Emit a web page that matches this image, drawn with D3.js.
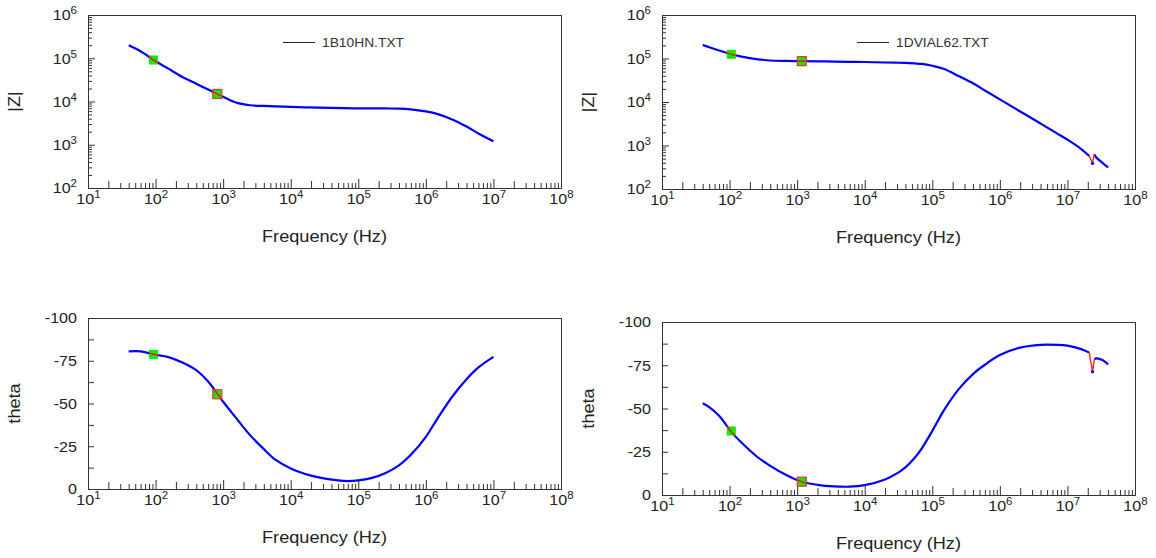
<!DOCTYPE html>
<html><head><meta charset="utf-8">
<script src="https://cdn.jsdelivr.net/npm/d3@7"></script>
<style>
body{margin:0;background:#fff;}
svg text{font-family:"Liberation Sans",Arial,sans-serif;fill:#222;}
</style></head><body>
<svg id="c" width="1156" height="558"></svg>
<script>
// ---------- data ----------
const fileNames = ["1B10HN.TXT", "1DVIAL62.TXT"];
const freqTicks = [1e1, 1e2, 1e3, 1e4, 1e5, 1e6, 1e7, 1e8];
const zTicks = [1e2, 1e3, 1e4, 1e5, 1e6];
const thetaTicks = [0, -25, -50, -75, -100];
const thetaMinorTicks = [-12.5, -37.5, -62.5, -87.5];

const freq1  = [40, 60, 100, 150, 250, 400, 600, 1000, 1500, 2500, 4000, 6000, 1e4, 1.6e4, 2.5e4, 6e4, 1e5, 1.6e5, 2.5e5, 4e5, 6e5, 1e6, 1.5e6, 2.5e6, 4e6, 6e6, 1e7];
const zmag1  = [2.0e5, 1.45e5, 8.5e4, 5.9e4, 3.67e4, 2.57e4, 1.9e4, 1.28e4, 9.6e3, 8.2e3, 7.9e3, 7.7e3, 7.5e3, 7.35e3, 7.2e3, 7.0e3, 6.95e3, 6.92e3, 6.9e3, 6.85e3, 6.6e3, 5.9e3, 5.1e3, 3.8e3, 2.63e3, 1.82e3, 1.2e3];
const theta1 = [-80.5, -80.5, -78.5, -77.3, -74, -69.5, -62.9, -51, -42.3, -31.5, -23.3, -17.0, -12.0, -8.9, -6.9, -4.7, -5.0, -6.5, -9.2, -13.8, -20.0, -30.5, -41.5, -54.4, -64.2, -71.1, -77.3];
const markFreq1  = [93, 820];
const markZ1     = [9.1e4, 1.49e4];
const markTheta1 = [-78.7, -55.4];

const freq2  = [40, 50, 70, 106, 150, 250, 400, 700, 1170, 2000, 3500, 6000, 1e4, 2e4, 3e4, 4e4, 5.5e4, 7e4, 1e5, 1.5e5, 2.5e5, 4e5, 6e5, 1e6, 2e6, 4e6, 7e6, 1e7, 1.6e7, 2.1e7, 2.35e7, 2.5e7, 2.7e7, 3.3e7, 4e7];
const zmag2  = [2.04e5, 1.82e5, 1.53e5, 1.25e5, 1.10e5, 9.7e4, 9.0e4, 8.8e4, 8.7e4, 8.6e4, 8.5e4, 8.4e4, 8.3e4, 8.1e4, 8.0e4, 7.9e4, 7.7e4, 7.5e4, 6.8e4, 5.75e4, 3.9e4, 2.7e4, 1.84e4, 1.15e4, 6.07e3, 3.2e3, 1.9e3, 1.36e3, 830, 575, 390, 630, 525, 400, 316];
const theta2 = [-53, -50.8, -45.8, -36.5, -30.3, -22.4, -16.8, -11.4, -7.7, -5.9, -5.0, -4.8, -5.7, -9.0, -12.5, -16.0, -21.5, -27.0, -37.0, -49.2, -61.5, -69.9, -75.3, -80.9, -85.2, -86.8, -86.8, -86.3, -84.3, -82.3, -71.3, -78.4, -79, -78, -75.5];
const markFreq2  = [106, 1170];
const markZ2     = [1.25e5, 8.7e4];
const markTheta2 = [-37, -7.7];

// ---------- layout ----------
const files = [
  {freq: freq1, z: zmag1, t: theta1, mf: markFreq1, mz: markZ1, mt: markTheta1, red: null},
  {freq: freq2, z: zmag2, t: theta2, mf: markFreq2, mz: markZ2, mt: markTheta2, red: [29, 31]}
];
const panels = [
  {x0: 88,  x1: 561,  y0: 15,  y1: 188, type: "z", file: 0},
  {x0: 662, x1: 1135, y0: 15,  y1: 189, type: "z", file: 1},
  {x0: 88,  x1: 561,  y0: 318, y1: 489, type: "t", file: 0},
  {x0: 662, x1: 1135, y0: 322, y1: 495, type: "t", file: 1}
];
const SX = 1.15; // horizontal text stretch
const AX = "#333";

const svg = d3.select("#c");
const minor2 = [], minorRest = [];
for (let e = 1; e < 8; e++) for (let m = 2; m <= 9; m++) (m === 2 ? minor2 : minorRest).push(m * Math.pow(10, e));
const yMinor = [];
for (let e = 2; e < 6; e++) for (let m = 2; m <= 9; m++) yMinor.push(m * Math.pow(10, e));

function supLabel(sel, exp) {
  sel.text(null);
  sel.append("tspan").text("10");
  sel.append("tspan").attr("dy", -6).attr("font-size", "10px").text(exp);
}

panels.forEach((p, pi) => {
  const f = files[p.file];
  const g = svg.append("g");
  const x = d3.scaleLog().domain([1e1, 1e8]).range([p.x0, p.x1]);
  const y = p.type === "z"
    ? d3.scaleLog().domain([1e2, 1e6]).range([p.y1, p.y0])
    : d3.scaleLinear().domain([0, -100]).range([p.y1, p.y0]);
  const vals = p.type === "z" ? f.z : f.t;
  const mvals = p.type === "z" ? f.mz : f.mt;

  // x axis (ticks inward)
  const gx = g.append("g").attr("transform", `translate(0,${p.y1})`).attr("color", AX);
  gx.append("g").call(d3.axisBottom(x).tickValues(minorRest).tickSize(-5).tickFormat(""));
  gx.append("g").call(d3.axisBottom(x).tickValues(minor2).tickSize(-7).tickFormat(""));
  const gxm = gx.append("g").call(d3.axisBottom(x).tickValues(freqTicks).tickSize(-9).tickFormat(""));
  gx.selectAll(".domain").remove();
  gxm.selectAll(".tick text").attr("y", 16).attr("dy", 0).attr("font-size", "14px")
    .attr("transform", `scale(${SX},1)`)
    .each(function(d) { supLabel(d3.select(this), Math.round(Math.log10(d))); });

  // y axis
  const gy = g.append("g").attr("transform", `translate(${p.x0},0)`).attr("color", AX);
  if (p.type === "z") {
    gy.append("g").call(d3.axisLeft(y).tickValues(yMinor).tickSize(-4).tickFormat(""));
    const gym = gy.append("g").call(d3.axisLeft(y).tickValues(zTicks).tickSize(-7).tickFormat(""));
    gym.selectAll(".tick text").attr("x", -11 / SX).attr("dy", "0.35em").attr("font-size", "14px")
      .attr("transform", `scale(${SX},1)`)
      .each(function(d) { supLabel(d3.select(this), Math.round(Math.log10(d))); });
  } else {
    gy.append("g").call(d3.axisLeft(y).tickValues(thetaMinorTicks).tickSize(-6).tickFormat(""));
    const gym = gy.append("g").call(d3.axisLeft(y).tickValues(thetaTicks).tickSize(-6).tickFormat(d => String(d)));
    gym.selectAll(".tick text").attr("x", -11 / SX).attr("dy", "0.35em").attr("font-size", "14px")
      .attr("transform", `scale(${SX},1)`);
  }
  gy.selectAll(".domain").remove();

  // frame
  g.append("rect").attr("x", p.x0 + 0.5).attr("y", p.y0 + 0.5)
    .attr("width", p.x1 - p.x0).attr("height", p.y1 - p.y0)
    .attr("fill", "none").attr("stroke", AX).attr("stroke-width", 1);

  // curve
  const pts = f.freq.map((fr, i) => ({f: fr, v: vals[i], i}));
  const line = d3.line().x(d => x(d.f)).y(d => y(d.v)).curve(d3.curveCatmullRom.alpha(0.5));
  const segs = f.red ? [pts.slice(0, f.red[0] + 1), pts.slice(f.red[1])] : [pts];
  segs.forEach(s => g.append("path").attr("d", line(s)).attr("fill", "none")
    .attr("stroke", "#0000ff").attr("stroke-width", 2.2).attr("stroke-linejoin", "round"));
  if (f.red) {
    const rs = pts.slice(f.red[0], f.red[1] + 1);
    g.append("path").attr("d", d3.line().x(d => x(d.f)).y(d => y(d.v))(rs)).attr("fill", "none")
      .attr("stroke", "#ff2020").attr("stroke-width", 1.4);
    g.selectAll(null).data(rs.slice(1, 2)).join("circle")
      .attr("cx", d => x(d.f)).attr("cy", d => y(d.v)).attr("r", 1.6).attr("fill", "#0000ff");
  }

  // markers
  f.mf.forEach((mfr, k) => {
    const cx = x(mfr), cy = y(mvals[k]);
    const id = `clip${pi}_${k}`;
    g.append("clipPath").attr("id", id).append("rect")
      .attr("x", cx - 4.5).attr("y", cy - 4.5).attr("width", 9).attr("height", 9);
    g.append("rect").attr("x", cx - 4.5).attr("y", cy - 4.5).attr("width", 9).attr("height", 9)
      .attr("fill", "#00ee00")
      .attr("stroke", k === 1 ? "#ff3030" : "none").attr("stroke-width", 1.2);
    g.append("path").attr("d", line(pts)).attr("fill", "none").attr("stroke", "#ff1a1a")
      .attr("stroke-width", 1.6).attr("clip-path", `url(#${id})`);
  });

  // legend
  if (p.type === "z") {
    g.append("line").attr("x1", p.x0 + 195).attr("x2", p.x0 + 227).attr("y1", 42.5).attr("y2", 42.5)
      .attr("stroke", "#222").attr("stroke-width", 1);
    g.append("text").attr("transform", `translate(${p.x0 + 234},47) scale(${SX},1)`)
      .attr("font-size", "12px").style("fill", "#333").text(fileNames[p.file]);
  }

  // titles
  g.append("text").attr("transform", `translate(${(p.x0 + p.x1) / 2},${p.y1 + 54}) scale(1.1,1)`)
    .attr("text-anchor", "middle").attr("font-size", "16.5px").text("Frequency (Hz)");
  g.append("text").attr("transform", `translate(${p.x0 - 68},${(p.y0 + p.y1) / 2}) rotate(-90) scale(1.1,1)`)
    .attr("text-anchor", "middle").attr("font-size", "16.5px").text(p.type === "z" ? "|Z|" : "theta");
});
</script>
</body></html>
